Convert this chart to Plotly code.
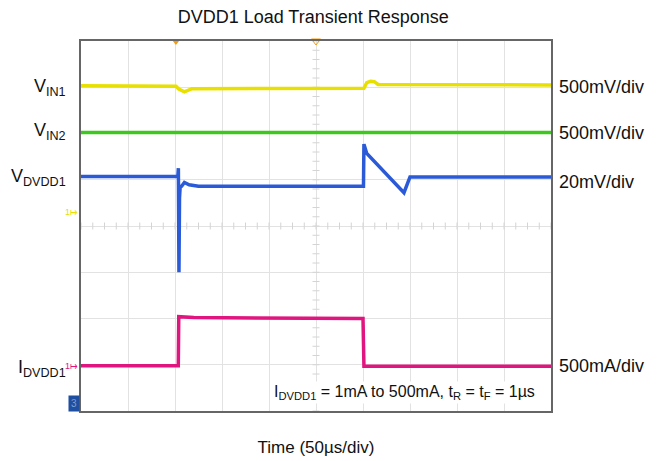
import numpy as np
import plotly.graph_objects as go

# time base: 10 div x 50 us, vertical: 8 div (screen divisions)
t_vin1 = [0, 101, 104, 110, 118, 200, 301, 304, 308, 312, 316, 500]
v_vin1 = [7.03, 7.02, 6.96, 6.90, 6.97, 6.98, 6.98, 7.10, 7.13, 7.12, 7.06, 7.05]

t_vin2 = [0, 500]
v_vin2 = [6.02, 6.02]

t_vout = [0, 103, 103.6, 104.2, 104.8, 105.5, 107, 110, 115, 125, 200, 300.5, 301, 304, 343.6, 350, 500]
v_vout = [5.07, 5.07, 5.25, 3.0, 4.6, 4.85, 4.86, 4.94, 4.89, 4.86, 4.86, 4.86, 5.77, 5.57, 4.72, 5.06, 5.06]

t_iout = [0, 103.5, 104, 120, 300, 300.5, 301, 500]
v_iout = [0.98, 0.98, 2.04, 2.02, 2.00, 1.0, 0.97, 0.97]

labels_left = ["V<sub>IN1</sub>", "V<sub>IN2</sub>", "V<sub>DVDD1</sub>", "I<sub>DVDD1</sub>"]
labels_y = [7.0, 6.05, 5.04, 0.92]
scales_right = ["500mV/div", "500mV/div", "20mV/div", "500mA/div"]
scales_y = [7.0, 6.02, 4.95, 0.98]

FONT = "Liberation Sans, Arial, sans-serif"

fig = go.Figure()

# center-line minor ticks
minor_y = np.arange(0, 8.01, 0.2)
minor_x = np.arange(0, 500.1, 12.5)
fig.add_trace(go.Scatter(x=[250] * len(minor_y), y=minor_y, mode="markers",
                         marker=dict(symbol="line-ew", size=5, line=dict(width=1, color="#d4d4d4")),
                         hoverinfo="skip", showlegend=False))
fig.add_trace(go.Scatter(x=minor_x, y=[4] * len(minor_x), mode="markers",
                         marker=dict(symbol="line-ns", size=5, line=dict(width=1, color="#d4d4d4")),
                         hoverinfo="skip", showlegend=False))

traces = [
    (t_vin1, v_vin1, "#e8e000"),
    (t_vin2, v_vin2, "#3cc81e"),
    (t_vout, v_vout, "#2a5ad8"),
    (t_iout, v_iout, "#e0157f"),
]
for tx, vy, col in traces:
    fig.add_trace(go.Scatter(x=tx, y=vy, mode="lines", line=dict(color=col, width=3.5),
                             hoverinfo="skip", showlegend=False))

# trigger markers
fig.add_trace(go.Scatter(x=[101], y=[8], mode="markers", cliponaxis=False,
                         marker=dict(symbol="triangle-down", size=8, color="#f39c12"),
                         hoverinfo="skip", showlegend=False))
fig.add_trace(go.Scatter(x=[250], y=[8], mode="markers", cliponaxis=False,
                         marker=dict(symbol="triangle-down-open", size=8, color="#f39c12"),
                         hoverinfo="skip", showlegend=False))

for txt, yy in zip(labels_left, labels_y):
    fig.add_annotation(x=0, xref="paper", y=yy, yref="y", xshift=-13, text=txt,
                       showarrow=False, xanchor="right", yanchor="middle",
                       font=dict(family=FONT, size=18, color="#111"))

for txt, yy in zip(scales_right, scales_y):
    fig.add_annotation(x=1, xref="paper", y=yy, yref="y", xshift=6, text=txt,
                       showarrow=False, xanchor="left", yanchor="middle",
                       font=dict(family=FONT, size=18, color="#111"))

# channel ground indicators
fig.add_annotation(x=0, xref="paper", y=4.3, yref="y", xshift=-1, text="1\u21a6",
                   showarrow=False, xanchor="right", yanchor="middle",
                   font=dict(family=FONT, size=9, color="#e8e000"))
fig.add_annotation(x=0, xref="paper", y=0.98, yref="y", xshift=-1, text="1\u21a6",
                   showarrow=False, xanchor="right", yanchor="middle",
                   font=dict(family=FONT, size=9, color="#e0157f"))
fig.add_annotation(x=0, xref="paper", y=0.17, yref="y", xshift=-1, text="3",
                   showarrow=False, xanchor="right", yanchor="middle", bgcolor="#1f4fa0",
                   borderpad=2, font=dict(family=FONT, size=10, color="#7f9fd0"))

fig.add_annotation(x=1, xref="paper", y=0.41, yref="y", xshift=-14,
                   text="I<sub>DVDD1</sub> = 1mA to 500mA, t<sub>R</sub> = t<sub>F</sub> = 1\u00b5s",
                   showarrow=False, xanchor="right", yanchor="middle", bgcolor="white",
                   font=dict(family=FONT, size=16, color="#111"))

fig.update_xaxes(range=[0, 500], dtick=50, showticklabels=False, ticks="",
                 showgrid=True, gridcolor="#e2e2e2", gridwidth=1, zeroline=False,
                 showline=True, mirror=True, linecolor="#666", linewidth=1.5, automargin=False,
                 title=dict(text="Time (50\u00b5s/div)", standoff=29,
                            font=dict(family=FONT, size=17, color="#111")))
fig.update_yaxes(range=[0, 8], dtick=1, showticklabels=False, ticks="",
                 showgrid=True, gridcolor="#e2e2e2", gridwidth=1, zeroline=False,
                 showline=True, mirror=True, linecolor="#666", linewidth=1.5, automargin=False)

# page body keeps its default 8px margin, so the figure is drawn 8px smaller
fig.update_layout(
    width=655, height=453,
    margin=dict(l=73, r=112, t=33, b=50),
    paper_bgcolor="white", plot_bgcolor="white",
    title=dict(text="DVDD1 Load Transient Response", x=0.466, xanchor="center", y=0.98, yanchor="middle",
               font=dict(family=FONT, size=18, color="#111")),
    showlegend=False,
)

fig.write_html("out.html")
